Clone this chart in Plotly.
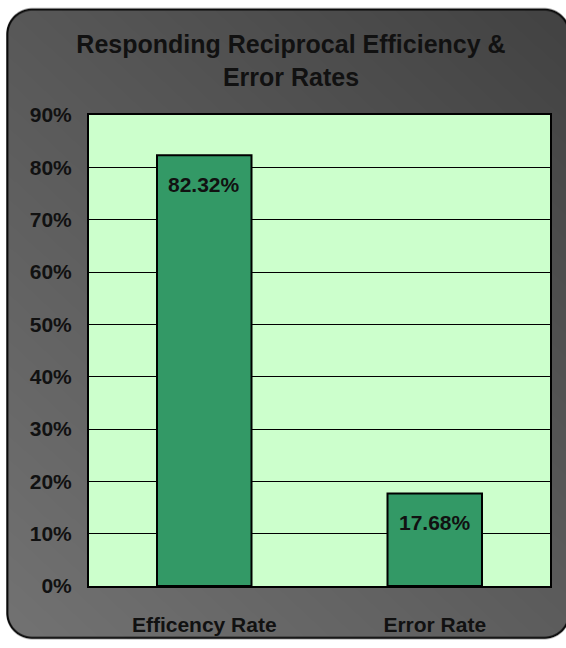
import base64
import struct
import zlib

import numpy as np
import plotly.graph_objects as go

# ---- data -------------------------------------------------------------
categories = ["Efficency Rate", "Error Rate"]
rates = [0.8232, 0.1768]
y_ticks = [0.0, 0.1, 0.2, 0.3, 0.4, 0.5, 0.6, 0.7, 0.8, 0.9]
y_tick_labels = ["0%", "10%", "20%", "30%", "40%", "50%", "60%", "70%", "80%", "90%"]
title_lines = ["Responding Reciprocal Efficiency &", "Error Rates"]

# ---- page geometry ------------------------------------------------------
W, H = 566, 648
M_L, M_R, M_T, M_B = 89, 16, 115, 55
PW, PH = W - M_L - M_R, H - M_T - M_B

FONT = "Liberation Sans, Arial, sans-serif"
BAR_GREEN = "#339966"
PLOT_GREEN = "#CCFFCC"


def png_data_uri(rgba):
    """Encode an RGBA uint8 array as a PNG data URI."""
    h, w, _ = rgba.shape
    raw = b"".join(b"\x00" + rgba[row].tobytes() for row in range(h))

    def chunk(tag, data):
        body = tag + data
        return struct.pack(">I", len(data)) + body + struct.pack(">I", zlib.crc32(body) & 0xFFFFFFFF)

    png = (b"\x89PNG\r\n\x1a\n"
           + chunk(b"IHDR", struct.pack(">IIBBBBB", w, h, 8, 6, 0, 0, 0))
           + chunk(b"IDAT", zlib.compress(raw, 9))
           + chunk(b"IEND", b""))
    return "data:image/png;base64," + base64.b64encode(png).decode()


def rounded_panel():
    """Gray diagonal-gradient panel with rounded corners and a dark rim."""
    x0, y0, x1, y1, r = 6.5, 7.0, 570.0, 646.5, 26.0
    yy, xx = np.mgrid[0:H, 0:W].astype(float) + 0.5
    cx = np.clip(xx, x0 + r, x1 - r)
    cy = np.clip(yy, y0 + r, y1 - r)
    dist = np.hypot(xx - cx, yy - cy) - r          # signed distance to edge
    inside = np.clip(0.5 - dist, 0, 1)
    rim = np.clip(1.6 - np.abs(dist + 0.8), 0, 1)

    shade = 88 - 22 * xx / W + 27 * yy / H
    shade = shade * (1 - rim) + 10 * rim
    img = np.zeros((H, W, 4), dtype=np.uint8)
    img[..., 0] = img[..., 1] = img[..., 2] = np.clip(shade, 0, 255).astype(np.uint8)
    img[..., 3] = (np.maximum(inside, rim) * 255).astype(np.uint8)
    return png_data_uri(img)


fig = go.Figure(
    go.Bar(
        x=categories,
        y=rates,
        marker=dict(color=BAR_GREEN, line=dict(color="black", width=2)),
        width=0.41,
        hoverinfo="skip",
    )
)

# value labels just inside the top of each bar
for cat, val in zip(categories, rates):
    fig.add_annotation(
        x=cat, y=val, xref="x", yref="y",
        text=f"<b>{val * 100:.2f}%</b>",
        showarrow=False, yanchor="middle", yshift=-29,
        font=dict(family=FONT, size=21, color="#111111"),
    )

# light green plot area, laid over the gray panel but under the grid
fig.add_shape(
    type="rect", xref="paper", yref="paper", x0=0, x1=1, y0=0, y1=1,
    fillcolor=PLOT_GREEN, line=dict(width=0), layer="below",
)

fig.update_layout(
    width=W, height=H,
    margin=dict(l=M_L, r=M_R, t=M_T, b=M_B, pad=0),
    paper_bgcolor="white",
    plot_bgcolor="rgba(0,0,0,0)",
    showlegend=False,
    title=dict(
        text="<b>" + "<br>".join(title_lines) + "</b>",
        x=291 / W, xanchor="center", xref="container",
        y=1 - 53 / H, yanchor="middle", yref="container",
        font=dict(family=FONT, size=25, color="#111111"),
    ),
    images=[dict(
        source=rounded_panel(),
        xref="paper", yref="paper",
        x=-M_L / PW, y=1 + M_T / PH,
        sizex=W / PW, sizey=H / PH,
        xanchor="left", yanchor="top",
        sizing="stretch", layer="below",
    )],
    xaxis=dict(
        showgrid=False,
        showline=True, linecolor="black", linewidth=2, mirror=True,
        ticks="", ticklabelstandoff=19,
        tickfont=dict(family=FONT, size=21, color="#111111"),
        tickprefix="<b>", ticksuffix="</b>",
    ),
    yaxis=dict(
        range=[0, 0.9],
        tickvals=y_ticks, ticktext=[f"<b>{t}</b>" for t in y_tick_labels],
        showgrid=True, gridcolor="black", gridwidth=1,
        zeroline=False,
        showline=True, linecolor="black", linewidth=2, mirror=True,
        ticks="", ticklabelstandoff=11,
        tickfont=dict(family=FONT, size=21, color="#111111"),
    ),
    bargap=0.59,
)

fig.write_html("out.html")
